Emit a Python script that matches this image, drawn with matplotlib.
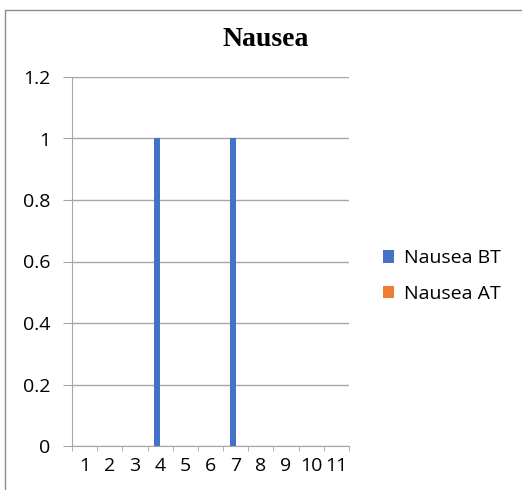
import matplotlib.pyplot as plt
import matplotlib.patches as mpatches
import numpy as np

categories = ['1', '2', '3', '4', '5', '6', '7', '8', '9', '10', '11']
nausea_bt = [0, 0, 0, 1, 0, 0, 1, 0, 0, 0, 0]
nausea_at = [0, 0, 0, 0, 0, 0, 0, 0, 0, 0, 0]
yticks = [0, 0.2, 0.4, 0.6, 0.8, 1, 1.2]
ytick_labels = ['0', '0.2', '0.4', '0.6', '0.8', '1', '1.2']

fig = plt.figure(figsize=(5.22, 4.90), dpi=100)
ax = fig.add_axes([72 / 522, 44 / 490, 277 / 522, 369 / 490])

x = np.arange(len(categories))
w = 0.24
ax.bar(x - w / 2, nausea_bt, w, color='#4472C4', label='Nausea BT', zorder=3)
ax.bar(x + w / 2, nausea_at, w, color='#ED7D31', label='Nausea AT', zorder=3)

ax.set_xlim(-0.5, len(categories) - 0.5)
ax.set_ylim(0, 1.2)
ax.set_yticks(yticks)
ax.set_yticklabels(ytick_labels, fontsize=14, family='Open Sans')
ax.set_xticks(x)
ax.set_xticklabels(categories, fontsize=14, family='Open Sans')
ax.tick_params(axis='x', which='major', length=0, pad=8)
ax.set_xticks(np.arange(-0.5, len(categories), 1), minor=True)
ax.tick_params(axis='x', which='minor', length=3.6, color='#A6A6A6', direction='out')
ax.tick_params(axis='y', length=6.5, color='#A6A6A6', pad=9)

ax.grid(axis='y', color='#A6A6A6', linewidth=1, zorder=0)
for s in ['top', 'right']:
    ax.spines[s].set_visible(False)
ax.spines['left'].set_color('#A6A6A6')
ax.spines['bottom'].set_color('#A6A6A6')

fig.text(266 / 522, 1 - 40 / 490, 'Nausea', ha='center', va='center',
         fontsize=20, fontweight='bold', family='Liberation Serif')

fig.legend(loc='center left', bbox_to_anchor=(365 / 522, 1 - 276 / 490),
           frameon=False, prop={'family': 'Open Sans', 'size': 14},
           handlelength=0.6, handleheight=0.6, handletextpad=0.5, labelspacing=0.9)

border = mpatches.Rectangle((5 / 522, -0.01), 1.0, 1 - 10 / 490 + 0.01,
                            transform=fig.transFigure, fill=False,
                            edgecolor='#8C8C8C', linewidth=1)
fig.patches.append(border)

plt.savefig('out.png', dpi=100)
